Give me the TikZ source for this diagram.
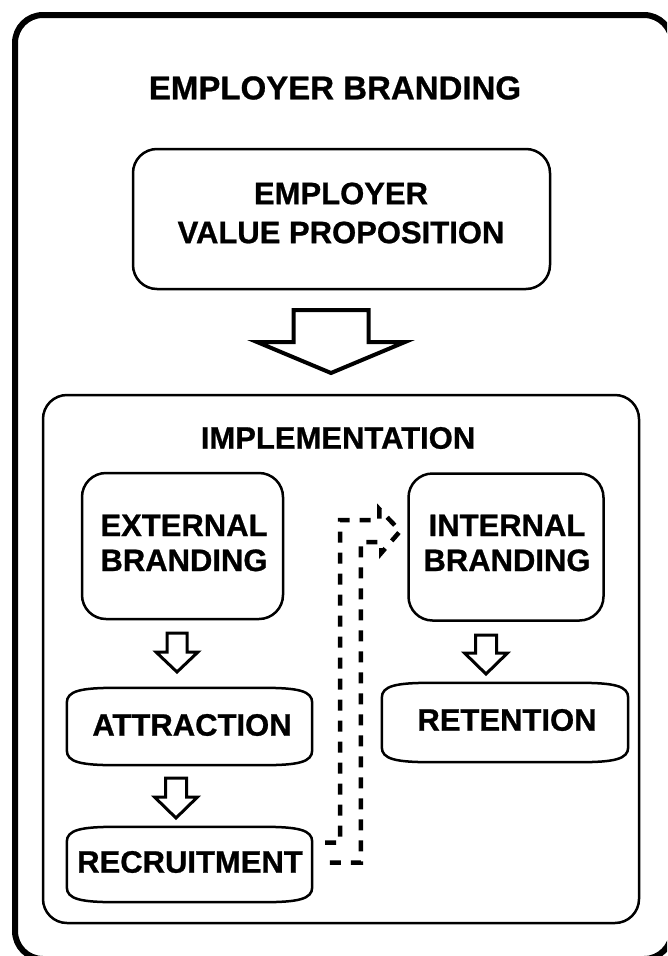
\documentclass[tikz,border=0pt]{standalone}
\usepackage{fontspec}
\setmainfont{Liberation Sans}[BoldFeatures={FakeBold=0.8}]
\usetikzlibrary{calc}
\newcommand{\blockarrowdown}[7]{%
  % #1 style, #2 x centre, #3 y top, #4 shaft width, #5 shaft length, #6 head width, #7 head length
  \draw[#1] ({#2-#4/2},#3) -- ({#2+#4/2},#3) -- ({#2+#4/2},{#3+#5}) -- ({#2+#6/2},{#3+#5})
    -- (#2,{#3+#5+#7}) -- ({#2-#6/2},{#3+#5}) -- ({#2-#4/2},{#3+#5}) -- cycle;}
\begin{document}
\begin{tikzpicture}[x=1pt,y=-1pt,
  frame/.style={draw, line width=6pt, rounded corners=28pt},
  panel/.style={draw, line width=2.5pt, rounded corners=24pt, inner sep=0pt},
  blank/.style={inner sep=0pt},
  lbl/.style={font=\fontsize{31}{35}\selectfont\bfseries, inner sep=0pt, align=center},
  ttl/.style={font=\fontsize{33}{38}\selectfont\bfseries, inner sep=0pt},
  hollow/.style={draw, line width=3pt, fill=white, line join=miter},
  bighollow/.style={draw, line width=4pt, fill=white, line join=miter},
  curvebox/.style={draw, line width=2.5pt},
  dashflow/.style={draw, line width=4.5pt, dash pattern=on 11pt off 10pt}]
\useasboundingbox (0,0) rectangle (667,956);
\clip (0,0) rectangle (667,956);
% outer frame
\node[frame, blank, minimum width=657pt, minimum height=944pt] (outer) at (343.5,487) {};
\node[ttl] (title) at (335,88) {EMPLOYER BRANDING};
% EVP
\node[panel, minimum width=417pt, minimum height=140pt] (evp) at (341.5,219) {};
\node[lbl, font=\fontsize{31}{39}\selectfont\bfseries] (evptxt) at (341,213) {EMPLOYER\\VALUE PROPOSITION};
% big arrow
\blockarrowdown{bighollow}{331}{310}{75}{32}{148}{31}
% implementation panel
\node[panel, minimum width=596pt, minimum height=528pt] (impl) at (341,659) {};
\node[lbl] (impltxt) at (338,438) {IMPLEMENTATION};
% external branding
\node[panel, minimum width=201pt, minimum height=146pt] (extb) at (182.5,546) {};
\node[lbl] (extbtxt) at (184,543) {EXTERNAL\\BRANDING};
% internal branding
\node[panel, minimum width=195pt, minimum height=147pt] (intb) at (506,547) {};
\node[lbl] (intbtxt) at (507,543) {INTERNAL\\BRANDING};
% small arrows
\blockarrowdown{hollow}{177}{633}{20}{19}{42}{20}
\blockarrowdown{hollow}{176}{778}{21}{19}{43}{21}
\blockarrowdown{hollow}{486}{635}{21}{18}{43}{21}
% attraction / recruitment / retention shapes
\foreach \nm/\cx/\cy/\w/\h in {attr/189.5/726.5/245/77, recr/189.5/864.5/245/75, rete/505/722.5/246/79}{
  \node[blank, minimum width=\w pt, minimum height=\h pt] (\nm) at (\cx,\cy) {};
  \draw[curvebox]
    ([yshift=-15pt]\nm.north west) .. controls ([yshift=-3pt]\nm.north west) and ([xshift=14pt]\nm.north west) .. ([xshift=50pt]\nm.north west)
    -- ([xshift=-50pt]\nm.north east) .. controls ([xshift=-14pt]\nm.north east) and ([yshift=-3pt]\nm.north east) .. ([yshift=-15pt]\nm.north east)
    -- ([yshift=15pt]\nm.south east) .. controls ([yshift=3pt]\nm.south east) and ([xshift=-14pt]\nm.south east) .. ([xshift=-50pt]\nm.south east)
    -- ([xshift=50pt]\nm.south west) .. controls ([xshift=14pt]\nm.south west) and ([yshift=3pt]\nm.south west) .. ([yshift=15pt]\nm.south west)
    -- cycle;
}
\node[lbl] (attrtxt) at (192,725) {ATTRACTION};
\node[lbl] (recrtxt) at (190,862) {RECRUITMENT};
\node[lbl] (retetxt) at (507,720) {RETENTION};
% dashed hollow connector from recruitment to internal branding
\coordinate (tailA) at ([xshift=13pt,yshift=22pt]recr.east);
\coordinate (tailB) at ([xshift=13pt,yshift=2pt]recr.east);
\coordinate (tip) at ([xshift=-7pt,yshift=16pt]intb.west);
\draw[dashflow] (tailA) -- ++(15,0) |- ($(tip)+(-21,-11)$) -- ++(0,-11) -- (tip)
  -- ++(-19,22) -- ++(0,-11) -- ++(-20.5,0) |- (tailB);
\end{tikzpicture}
\end{document}
